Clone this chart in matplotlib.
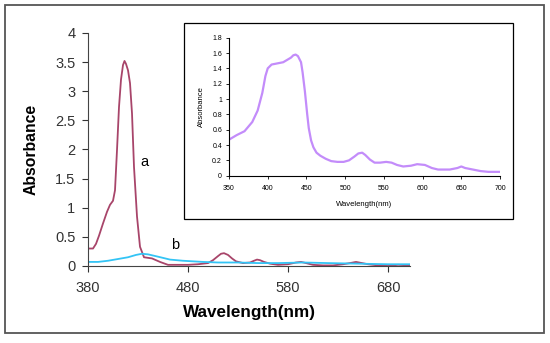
import matplotlib
matplotlib.use("Agg")
import matplotlib.pyplot as plt
from matplotlib.patches import Rectangle
from matplotlib.ticker import FuncFormatter

plt.rcParams['font.family'] = ['Liberation Sans', 'DejaVu Sans']

# curve a (main panel)
wl_a = [380, 385, 388, 391, 395, 399, 402, 405, 407, 409, 411, 413, 415, 416.5, 418, 420,
        422, 424, 426, 429, 432, 436, 444, 452, 460, 470, 480, 490, 500, 505, 510, 513,
        516, 520, 524, 528, 535, 542, 546, 549, 552, 556, 562, 570, 580, 588, 593, 598,
        605, 615, 625, 635, 642, 648, 654, 660, 670, 680, 690, 702]
abs_a = [0.30, 0.30, 0.38, 0.52, 0.73, 0.93, 1.05, 1.12, 1.30, 1.99, 2.73, 3.20, 3.45, 3.52,
         3.47, 3.36, 3.14, 2.62, 1.70, 0.85, 0.33, 0.15, 0.13, 0.07, 0.02, 0.02, 0.02, 0.03,
         0.05, 0.10, 0.17, 0.21, 0.22, 0.19, 0.13, 0.08, 0.05, 0.06, 0.09, 0.11, 0.10, 0.07,
         0.04, 0.02, 0.03, 0.06, 0.07, 0.05, 0.02, 0.01, 0.01, 0.03, 0.05, 0.07, 0.05, 0.03,
         0.01, 0.00, 0.02, 0.01]

# curve b (main panel)
wl_b = [380, 390, 400, 410, 420, 428, 434, 440, 450, 462, 475, 485, 495, 510, 530,
        550, 570, 595, 620, 650, 680, 702]
abs_b = [0.07, 0.07, 0.09, 0.12, 0.15, 0.19, 0.21, 0.20, 0.16, 0.11, 0.09, 0.08, 0.07,
         0.06, 0.06, 0.05, 0.05, 0.06, 0.05, 0.04, 0.03, 0.03]

# inset curve
wl_in = [350, 355, 360, 370, 380, 387, 393, 397, 400, 405, 410, 420, 430, 433, 436, 439,
         443, 445, 448, 451, 453, 456, 459, 463, 468, 475, 482, 490, 498, 505, 512, 517,
         522, 526, 532, 538, 545, 553, 560, 567, 575, 585, 593, 603, 612, 620, 635, 645,
         650, 655, 665, 675, 685, 700]
abs_in = [0.47, 0.50, 0.53, 0.58, 0.70, 0.85, 1.08, 1.30, 1.40, 1.45, 1.46, 1.48, 1.54,
          1.57, 1.58, 1.56, 1.48, 1.35, 1.10, 0.80, 0.62, 0.46, 0.37, 0.30, 0.26, 0.22,
          0.19, 0.18, 0.18, 0.20, 0.25, 0.29, 0.30, 0.27, 0.21, 0.17, 0.17, 0.18, 0.17,
          0.14, 0.12, 0.13, 0.15, 0.14, 0.10, 0.08, 0.08, 0.10, 0.12, 0.10, 0.08, 0.06,
          0.05, 0.05]

fmt = FuncFormatter(lambda v, p: '%g' % v)

fig = plt.figure(figsize=(5.5, 3.43), dpi=100)
fig.patches.append(Rectangle((0.009, 0.029), 0.980, 0.956, transform=fig.transFigure,
                             fill=False, edgecolor='#555555', linewidth=1.3))

ax = fig.add_axes([0.16, 0.2245, 0.5855, 0.6793])
ax.plot(wl_a, abs_a, color='#A8456A', linewidth=1.3)
ax.plot(wl_b, abs_b, color='#33C4F5', linewidth=1.3)
ax.set_xlim(380, 702)
ax.set_ylim(0, 4)
ax.set_xticks([380, 480, 580, 680])
ax.set_yticks([0, 0.5, 1, 1.5, 2, 2.5, 3, 3.5, 4])
ax.yaxis.set_major_formatter(fmt)
for s in ['top', 'right']:
    ax.spines[s].set_visible(False)
for s in ['left', 'bottom']:
    ax.spines[s].set_color('#444444')
ax.tick_params(axis='both', labelsize=10.5, colors='#333333', length=4, width=0.8)
ax.tick_params(axis='x', pad=7)
ax.tick_params(axis='y', pad=5)
ax.set_xlabel('Wavelength(nm)', fontsize=12.3, fontweight='bold', labelpad=7)
ax.set_ylabel('Absorbance', fontsize=11.3, fontweight='bold', labelpad=12)
ax.text(432, 1.72, 'a', fontsize=10.5)
ax.text(463, 0.30, 'b', fontsize=10.5)

# inset
fig.patches.append(Rectangle((0.3345, 0.3615), 0.598, 0.5714, transform=fig.transFigure,
                             facecolor='white', edgecolor='black', linewidth=0.9, zorder=5))
ins = fig.add_axes([0.4164, 0.4878, 0.4927, 0.4023])
ins.set_zorder(6)
ins.patch.set_alpha(0)
ins.plot(wl_in, abs_in, color='#C38CFA', linewidth=1.6)
ins.set_xlim(350, 700)
ins.set_ylim(0, 1.8)
ins.set_xticks([350, 400, 450, 500, 550, 600, 650, 700])
ins.set_yticks([0, 0.2, 0.4, 0.6, 0.8, 1, 1.2, 1.4, 1.6, 1.8])
ins.yaxis.set_major_formatter(fmt)
for s in ['top', 'right']:
    ins.spines[s].set_visible(False)
ins.tick_params(axis='both', labelsize=5, length=2, width=0.6, pad=3)
ins.tick_params(axis='x', pad=5)
ins.set_xlabel('Wavelength(nm)', fontsize=5.5, labelpad=6)
ins.set_ylabel('Absorbance', fontsize=5.5, labelpad=5)

fig.savefig('out.png', dpi=100)
